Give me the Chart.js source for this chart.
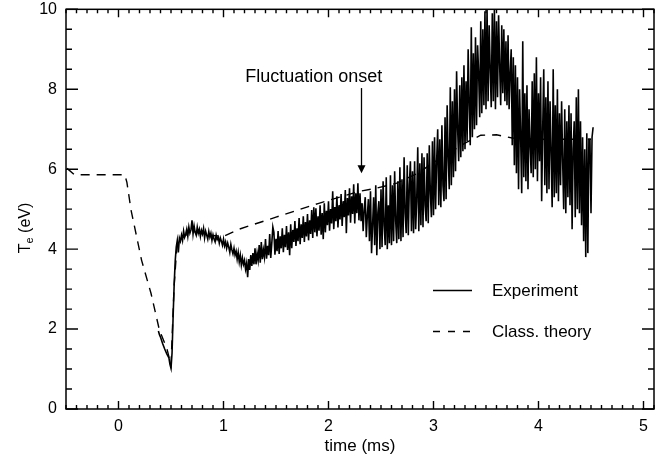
<!DOCTYPE html>
<html>
<head>
<meta charset="utf-8">
<script src="https://cdn.jsdelivr.net/npm/chart.js@4.4.1/dist/chart.umd.min.js"></script>
<style>
    html, body { margin: 0; padding: 0; background: #fff; }
</style>
</head>
<body>
<canvas id="chart-te" width="662" height="456"></canvas>
<script>
//tick labels
var xMajorTicks = [0, 1, 2, 3, 4, 5];
var yMajorTicks = [0, 2, 4, 6, 8, 10];

//classical theory curve (ms, eV)
var theoryTime = [-0.49, -0.42, 0.06, 0.08, 0.12, 0.22, 0.31, 0.39, 0.46, 0.50, 0.53, 0.56, 0.70, 0.85, 1.00, 1.15, 1.50, 1.90, 2.30, 2.45, 2.65, 2.85, 3.05, 3.30, 3.45, 3.60, 3.75, 4.00, 4.50];
var theoryTe = [6.02, 5.86, 5.86, 5.67, 4.97, 3.72, 2.89, 1.97, 1.52, 1.10, 3.10, 4.20, 4.45, 4.35, 4.32, 4.50, 4.80, 5.14, 5.45, 5.52, 5.65, 5.90, 6.25, 6.65, 6.85, 6.86, 6.78, 6.75, 6.75];

//experiment trace, one sample every 0.01 ms starting at 0.38 ms
var expStart = 0.38;
var expStep = 0.01;
var expTe = [
    1.95, 1.86,
    1.80, 1.72, 1.64, 1.57, 1.50, 1.44, 1.38, 1.33, 1.28, 1.12,
    1.02, 1.40, 2.30, 3.10, 3.70, 4.05, 4.22, 3.92, 4.28, 4.20,
    4.35, 4.22, 4.45, 4.30, 4.38, 4.50, 4.32, 4.55, 4.40, 4.48,
    4.72, 4.38, 4.58, 4.42, 4.35, 4.55, 4.40, 4.50, 4.32, 4.47,
    4.38, 4.52, 4.28, 4.45, 4.35, 4.25, 4.44, 4.30, 4.40, 4.22,
    4.36, 4.25, 4.18, 4.35, 4.24, 4.30, 4.15, 4.28, 4.20, 4.10,
    4.25, 4.08, 4.18, 4.02, 4.15, 4.05, 3.92, 4.12, 3.98, 3.88,
    4.02, 3.85, 3.95, 3.75, 3.92, 3.68, 3.85, 3.60, 3.78, 3.62,
    3.72, 3.50, 3.65, 3.30, 3.75, 3.48, 3.85, 3.58, 3.90, 3.62,
    4.02, 3.62, 3.90, 3.72, 4.10, 3.66, 4.18, 3.75, 3.98, 3.80,
    4.25, 3.76, 4.08, 3.85, 4.38, 3.78, 4.15, 4.55, 4.42, 3.86,
    4.26, 3.95, 4.45, 3.88, 4.32, 4.02, 4.52, 3.92, 4.36, 4.05,
    4.58, 3.98, 4.42, 3.85, 4.62, 4.02, 4.48, 4.18, 4.70, 4.08,
    4.52, 4.20, 4.78, 4.12, 4.62, 4.28, 4.82, 4.18, 4.68, 4.32,
    4.88, 4.22, 4.72, 4.38, 4.98, 4.28, 5.05, 4.42, 5.02, 4.32,
    4.82, 4.46, 5.10, 4.36, 4.90, 4.25, 5.15, 4.42, 4.96, 4.60,
    5.20, 4.46, 5.00, 4.64, 5.45, 4.50, 5.05, 4.70, 5.32, 4.54,
    5.10, 4.74, 5.38, 4.58, 5.20, 4.80, 5.48, 4.40, 5.28, 4.84,
    5.52, 4.66, 5.32, 4.88, 5.62, 4.64, 5.40, 4.90, 5.65, 4.72,
    5.40, 4.70, 5.15, 4.45, 5.00, 5.30, 4.30, 4.85, 5.25, 4.20,
    5.45, 3.90, 4.60, 5.30, 4.10, 5.60, 3.85, 4.90, 5.20, 4.00,
    5.50, 4.05, 5.70, 4.60, 4.10, 5.80, 4.00, 5.10, 4.15, 5.85,
    4.10, 5.60, 4.20, 5.95, 4.70, 4.15, 5.70, 4.25, 6.05, 4.20,
    5.75, 4.30, 6.30, 4.90, 4.40, 6.10, 4.35, 5.60, 6.20, 4.45,
    5.95, 4.40, 6.20, 4.50, 5.20, 6.55, 4.45, 6.15, 4.60, 6.40,
    4.55, 6.30, 5.10, 4.70, 6.40, 4.65, 6.60, 5.40, 4.80, 6.70,
    4.85, 6.80, 5.00, 6.20, 7.00, 5.10, 6.75, 5.05, 7.10, 5.60,
    5.20, 7.30, 5.25, 7.60, 6.30, 5.50, 8.05, 5.60, 7.70, 5.80,
    8.00, 5.95, 8.45, 7.00, 6.20, 8.10, 6.30, 8.30, 6.45, 8.60,
    6.50, 8.20, 6.70, 9.00, 7.60, 6.60, 9.55, 6.80, 8.90, 7.00,
    9.30, 7.10, 9.10, 8.40, 7.30, 9.70, 7.40, 9.50, 7.60, 9.95,
    7.50, 10.0, 7.70, 9.60, 8.50, 7.55, 9.90, 7.70, 10.0, 7.50,
    9.70, 7.80, 9.85, 8.60, 7.60, 9.60, 7.90, 9.50, 7.70, 9.20,
    7.60, 9.35, 7.50, 8.40, 9.00, 6.60, 8.80, 6.10, 8.60, 5.90,
    8.30, 5.50, 8.00, 6.80, 5.40, 9.20, 5.80, 7.90, 5.70, 8.10,
    5.50, 7.50, 6.60, 5.90, 8.20, 5.80, 8.40, 6.00, 8.80, 5.70,
    7.90, 6.20, 8.30, 5.20, 7.00, 8.50, 5.60, 7.80, 5.40, 8.20,
    5.50, 7.70, 6.40, 5.05, 8.50, 5.30, 7.60, 5.40, 8.00, 5.20,
    7.40, 5.60, 7.70, 6.20, 5.00, 7.50, 4.90, 7.20, 5.30, 7.60,
    5.10, 7.40, 4.50, 6.50, 7.20, 4.80, 7.80, 5.00, 8.00, 4.90,
    7.20, 4.60, 6.80, 4.20, 6.50, 3.80, 6.90, 3.90, 6.75, 6.75,
    4.90, 6.80, 7.05
];

var seriesLabels = ['Experiment', 'Class. theory'];

//annotation
var onsetLabel = 'Fluctuation onset';
var onsetTime = 2.305;
var onsetTextTime = 1.86;
var onsetTextTe = 8.3;
var onsetArrowTop = 8.03;
var onsetArrowTip = 5.9;

var fontName = '"Liberation Sans", Arial, Helvetica, sans-serif';

function BuildExpPoints() {
    var pts = [];
    expTe.forEach(function (v, i) {
        pts.push({ x: Math.round((expStart + i * expStep) * 1000) / 1000, y: v });
    });
    return pts;
}

function BuildTheoryPoints() {
    return theoryTime.map(function (t, i) {
        return { x: t, y: theoryTe[i] };
    });
}

function ResetCtx(ctx) {
    ctx.setTransform(1, 0, 0, 1, 0, 0);
    ctx.globalAlpha = 1;
    ctx.globalCompositeOperation = 'source-over';
    ctx.shadowColor = 'rgba(0,0,0,0)';
    ctx.shadowBlur = 0;
    ctx.filter = 'none';
    ctx.setLineDash([]);
    ctx.fillStyle = '#000';
    ctx.strokeStyle = '#000';
}

//box and inward ticks on all four sides
var ticksPlugin = {
    id: 'ticksPlugin',
    afterDraw: function (chart) {
        var ctx = chart.ctx;
        var area = chart.chartArea;
        var xs = chart.scales.x;
        var ys = chart.scales.y;
        var xMin = xs.min, xMax = xs.max, yMin = ys.min, yMax = ys.max;
        var w = area.right - area.left;
        var h = area.bottom - area.top;
        ctx.save();
        ResetCtx(ctx);
        ctx.lineWidth = 1.5;
        ctx.strokeRect(area.left, area.top, w, h);

        ctx.beginPath();
        ctx.lineWidth = 1.4;
        for (var i = -5; i <= 51; i++) {
            var px = area.left + (i / 10 - xMin) / (xMax - xMin) * w;
            var len = (i % 10 === 0) ? 8 : 4;
            ctx.moveTo(px, area.bottom);
            ctx.lineTo(px, area.bottom - len);
            ctx.moveTo(px, area.top);
            ctx.lineTo(px, area.top + len);
        }
        for (var j = 0; j <= 20; j++) {
            var py = area.bottom - (j / 2 - yMin) / (yMax - yMin) * h;
            var ylen = (j % 4 === 0) ? 12 : 6;
            ctx.moveTo(area.left, py);
            ctx.lineTo(area.left + ylen, py);
            ctx.moveTo(area.right, py);
            ctx.lineTo(area.right - ylen, py);
        }
        ctx.stroke();
        ctx.restore();
    }
};

//y title, legend, arrow
var labelPlugin = {
    id: 'labelPlugin',
    afterDraw: function (chart) {
        var ctx = chart.ctx;
        var xs = chart.scales.x;
        var ys = chart.scales.y;
        ctx.save();
        ResetCtx(ctx);

        //y title with subscript
        ctx.save();
        ctx.translate(30, 228);
        ctx.rotate(-Math.PI / 2);
        ctx.textBaseline = 'alphabetic';
        ctx.textAlign = 'left';
        ctx.font = '16px ' + fontName;
        var wT = ctx.measureText('T').width;
        var wRest = ctx.measureText(' (eV)').width;
        ctx.font = '11px ' + fontName;
        var wE = ctx.measureText('e').width;
        var x0 = -(wT + wE + wRest) / 2;
        ctx.font = '16px ' + fontName;
        ctx.fillText('T', x0, 0);
        ctx.font = '11px ' + fontName;
        ctx.fillText('e', x0 + wT, 3);
        ctx.font = '16px ' + fontName;
        ctx.fillText(' (eV)', x0 + wT + wE, 0);
        ctx.restore();

        //legend
        var ds = chart.data.datasets;
        ctx.font = '17px ' + fontName;
        ctx.textBaseline = 'middle';
        ctx.textAlign = 'left';
        var legendRows = [290.5, 331.5];
        ds.forEach(function (d, k) {
            ctx.beginPath();
            ctx.lineWidth = 1.5;
            ctx.setLineDash(k === 1 ? [7, 8] : []);
            ctx.moveTo(433, legendRows[k]);
            ctx.lineTo(472, legendRows[k]);
            ctx.stroke();
            ctx.setLineDash([]);
            ctx.fillText(d.label, 492, legendRows[k] + 1);
        });

        //fluctuation onset arrow
        var ax = Math.round(xs.getPixelForValue(onsetTime)) + 0.5;
        var ayTop = ys.getPixelForValue(onsetArrowTop);
        var ayTip = ys.getPixelForValue(onsetArrowTip);
        ctx.lineWidth = 1.3;
        ctx.beginPath();
        ctx.moveTo(ax, ayTop);
        ctx.lineTo(ax, ayTip - 6);
        ctx.stroke();
        ctx.beginPath();
        ctx.moveTo(ax - 4, ayTip - 8);
        ctx.lineTo(ax + 4, ayTip - 8);
        ctx.lineTo(ax, ayTip);
        ctx.closePath();
        ctx.fill();
        ctx.font = '18px ' + fontName;
        ctx.textAlign = 'center';
        ctx.fillText(onsetLabel, xs.getPixelForValue(onsetTextTime), ys.getPixelForValue(onsetTextTe));
        ctx.restore();
    }
};

var ctxChart = document.getElementById('chart-te');
var myChart = new Chart(ctxChart, {
    type: 'line',
    data: {
        datasets: [
            {
                label: seriesLabels[0],
                data: BuildExpPoints(),
                borderColor: '#000',
                borderWidth: 1.6,
                pointRadius: 0,
                tension: 0,
                fill: false
            },
            {
                label: seriesLabels[1],
                data: BuildTheoryPoints(),
                borderColor: '#000',
                borderWidth: 1.4,
                borderDash: [9, 7],
                pointRadius: 0,
                tension: 0,
                fill: false
            }
        ]
    },
    options: {
        responsive: false,
        animation: false,
        devicePixelRatio: 1,
        layout: { padding: { top: 0, right: 8, left: 0, bottom: 0 } },
        plugins: {
            legend: { display: false },
            tooltip: { enabled: false }
        },
        scales: {
            x: {
                type: 'linear',
                min: -0.5,
                max: 5.1,
                afterBuildTicks: function (scale) {
                    scale.ticks = xMajorTicks.map(function (v) { return { value: v }; });
                },
                afterFit: function (scale) { scale.height = 47; },
                grid: { display: false, drawTicks: false },
                border: { display: false },
                ticks: {
                    color: '#000',
                    padding: 10,
                    maxRotation: 0,
                    font: { family: fontName, size: 16, lineHeight: 1 }
                },
                title: {
                    display: true,
                    text: 'time (ms)',
                    color: '#000',
                    padding: { top: 0, bottom: 1 },
                    font: { family: fontName, size: 17, lineHeight: 1 }
                }
            },
            y: {
                type: 'linear',
                min: 0,
                max: 10,
                afterBuildTicks: function (scale) {
                    scale.ticks = yMajorTicks.map(function (v) { return { value: v }; });
                },
                afterFit: function (scale) { scale.width = 66; },
                grid: { display: false, drawTicks: false },
                border: { display: false },
                ticks: {
                    color: '#000',
                    padding: 9,
                    font: { family: fontName, size: 16, lineHeight: 0.04 }
                }
            }
        }
    },
    plugins: [ticksPlugin, labelPlugin]
});
</script>
</body>
</html>
